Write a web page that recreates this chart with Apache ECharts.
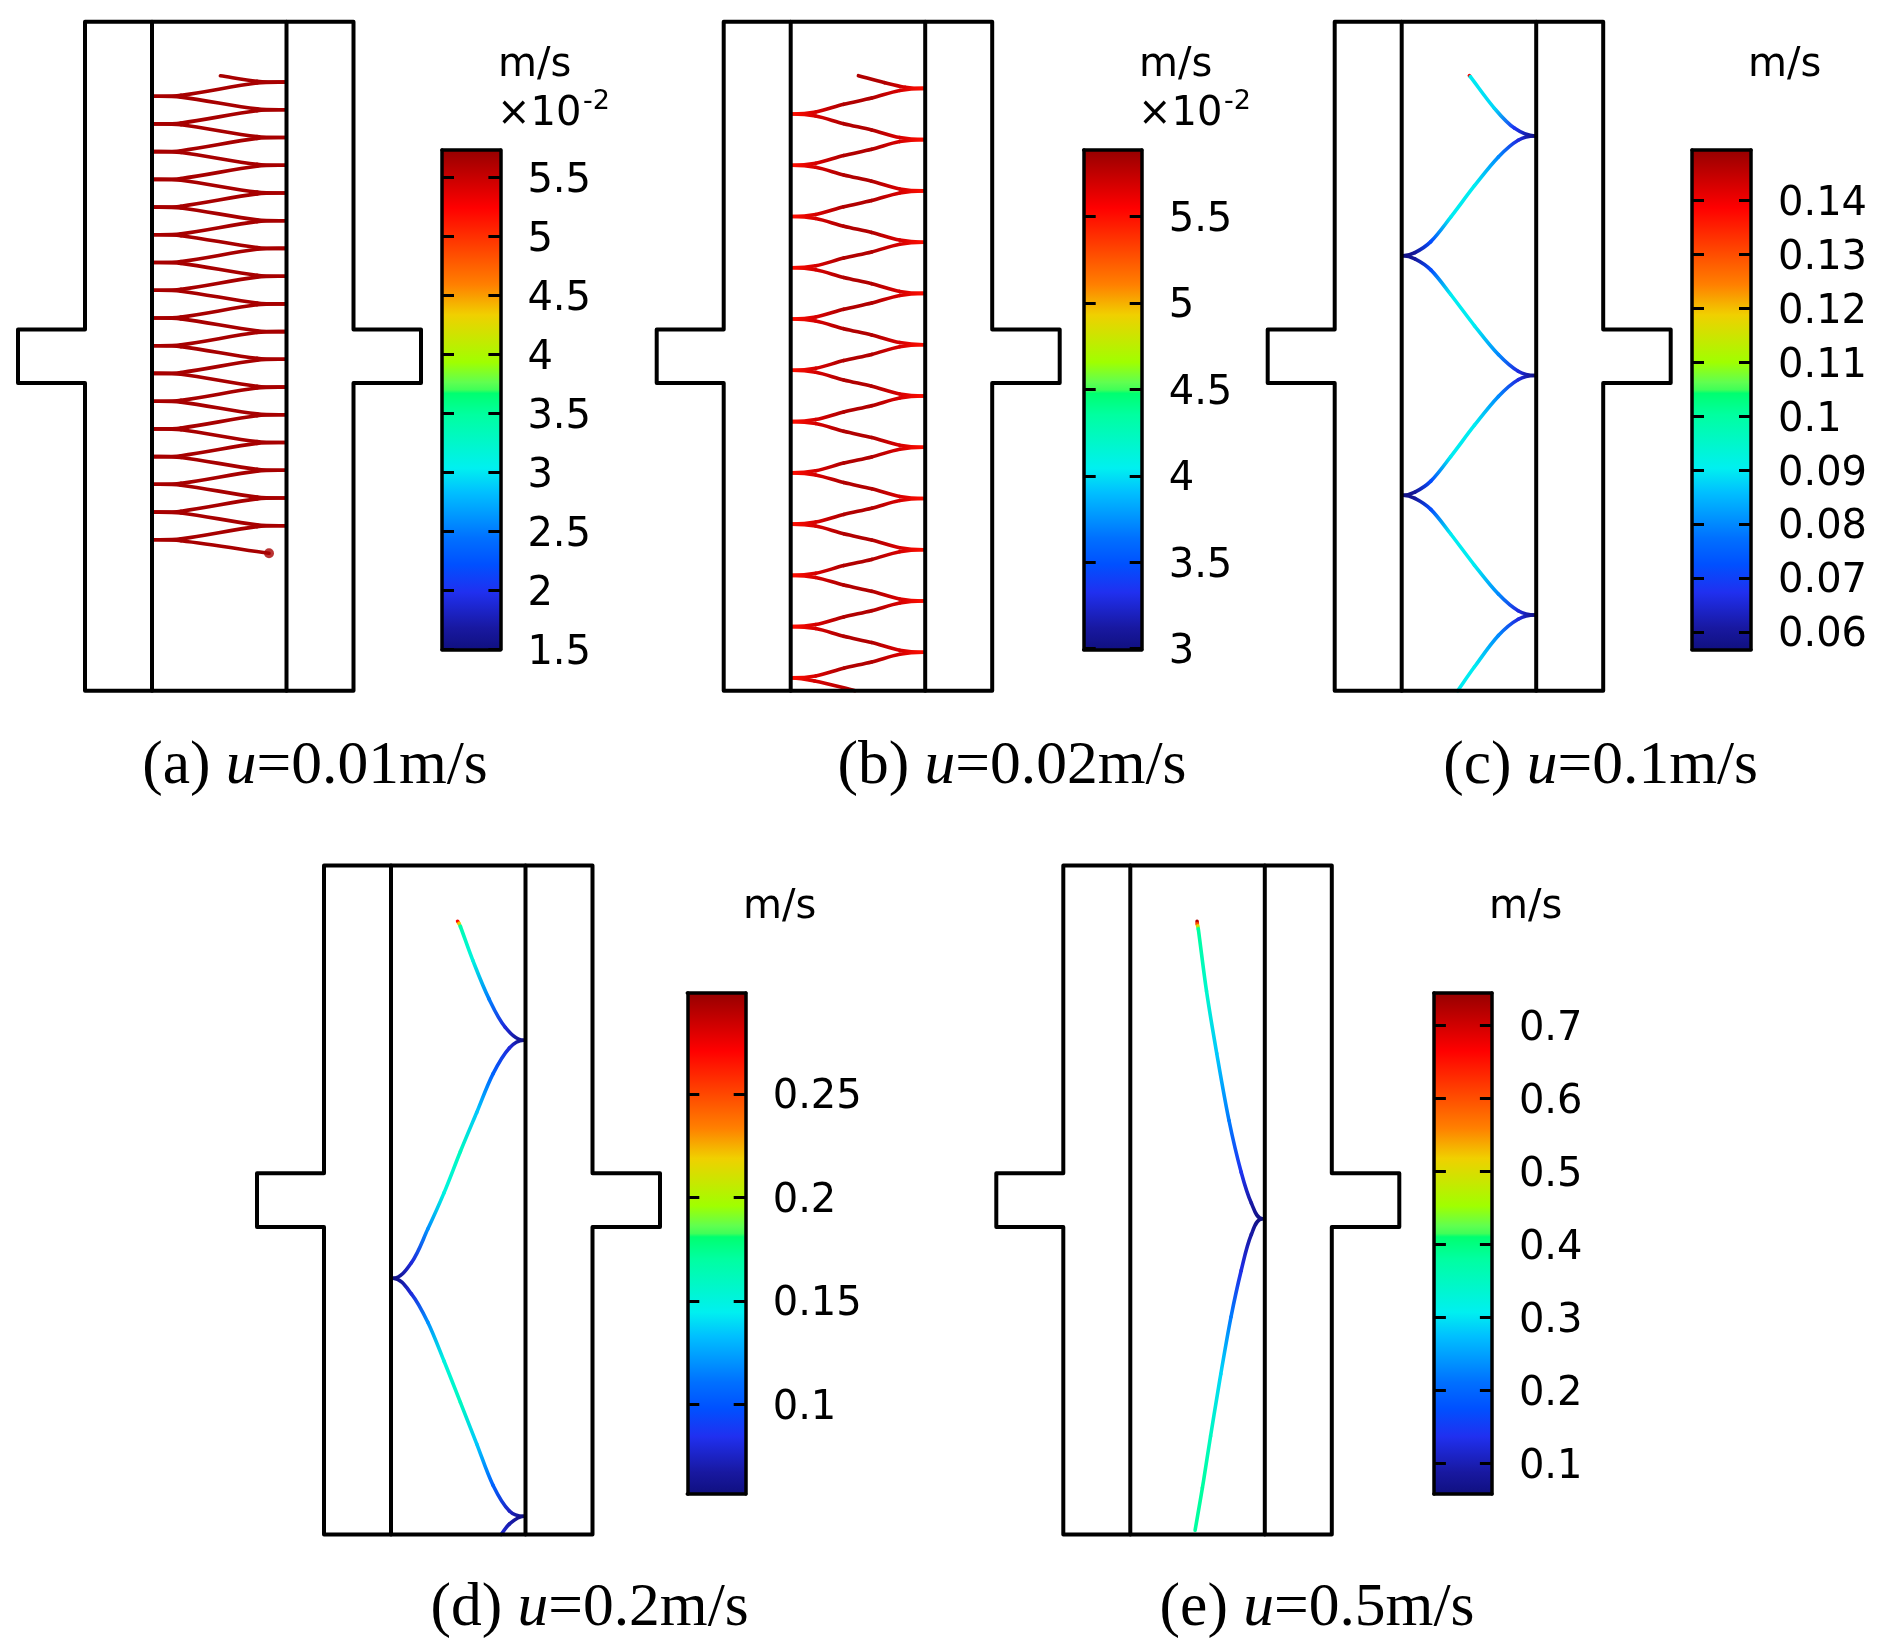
<!DOCTYPE html>
<html><head><meta charset="utf-8">
<style>html,body{margin:0;padding:0;background:#fff}#c{width:1883px;height:1651px}</style>
<script src="https://cdn.jsdelivr.net/npm/echarts@6/dist/echarts.min.js"></script>
</head><body><div id="c"></div>
<script>
// Device outline (reference px units, origin at outer frame top-left)
const outline=[[0,0],[268.5,0],[268.5,307.7],[336,307.7],[336,361.4],[268.5,361.4],[268.5,669],[0,669],[0,361.4],[-67,361.4],[-67,307.7],[0,307.7],[0,0]];
const wallLeft=[[67,0],[67,669]];
const wallRight=[[201.5,0],[201.5,669]];

// Speed colour scale: fraction, colour
const scaleStops=[[0,'#101080'],[0.043,'#1818a0'],[0.115,'#2030f0'],[0.17,'#0050ff'],[0.223,'#0070ff'],[0.315,'#00c0ff'],[0.363,'#00f0f0'],[0.47,'#00ffa0'],[0.513,'#00ff70'],[0.52,'#40ff58'],[0.535,'#60ff50'],[0.575,'#a0ff00'],[0.67,'#f0d000'],[0.73,'#ff8000'],[0.884,'#ff0000'],[1,'#960000']];

// (a) u=0.01
const trackA=[[135.4,54],[172,59.5],[200.5,60.4],
[172,61.3],[96,73.6],[68.5,74.5],[96,75.4],[172,87.2],[200.5,88.1],
[172,89],[96,101.3],[68.5,102.2],[96,103.1],[172,114.9],[200.5,115.8],
[172,116.7],[96,129],[68.5,129.9],[96,130.8],[172,142.7],[200.5,143.6],
[172,144.5],[96,156.8],[68.5,157.7],[96,158.6],[172,170.4],[200.5,171.3],
[172,172.2],[96,184.5],[68.5,185.4],[96,186.3],[172,198.1],[200.5,199],
[172,199.9],[96,212.2],[68.5,213.1],[96,214],[172,225.8],[200.5,226.7],
[172,227.6],[96,239.9],[68.5,240.8],[96,241.7],[172,253.6],[200.5,254.5],
[172,255.4],[96,267.7],[68.5,268.6],[96,269.5],[172,281.3],[200.5,282.2],
[172,283.1],[96,295.4],[68.5,296.3],[96,297.2],[172,309],[200.5,309.9],
[172,310.8],[96,323.1],[68.5,324],[96,324.9],[172,336.7],[200.5,337.6],
[172,338.5],[96,350.8],[68.5,351.7],[96,352.6],[172,364.5],[200.5,365.4],
[172,366.3],[96,378.6],[68.5,379.5],[96,380.4],[172,392.2],[200.5,393.1],
[172,394],[96,406.3],[68.5,407.2],[96,408.1],[172,419.9],[200.5,420.8],
[172,421.7],[96,434],[68.5,434.9],[96,435.8],[172,447.6],[200.5,448.5],
[172,449.4],[96,461.7],[68.5,462.6],[96,463.5],[172,475.4],[200.5,476.3],
[172,477.2],[96,489.5],[68.5,490.4],[96,491.3],[172,503.1],[200.5,504],
[172,504.9],[96,517.2],[68.5,518.1],[96,519],[184,531.6]];
const speedA=5.65;
const endDotA=[[184,531.6]];

// (b) u=0.02: x, y, speed
const trackB=[[134.7,54,5.8],[161,61,5.8],[181.5,65.5,5.68],[200,66.7,5.5],
[176,68.7,5.68],[148,76.4,5.8],[120,82.6,5.8],[92,90.3,5.68],[68,92.3,5.5],
[92,94.3,5.68],[120,102,5.8],[148,108.2,5.8],[176,115.9,5.68],[200,117.9,5.5],
[176,119.9,5.68],[148,127.6,5.8],[120,133.8,5.8],[92,141.5,5.68],[68,143.6,5.5],
[92,145.6,5.68],[120,153.3,5.8],[148,159.5,5.8],[176,167.2,5.68],[200,169.2,5.5],
[176,171.2,5.68],[148,178.9,5.8],[120,185.1,5.8],[92,192.8,5.68],[68,194.8,5.5],
[92,196.8,5.68],[120,204.5,5.8],[148,210.7,5.8],[176,218.4,5.68],[200,220.5,5.5],
[176,222.5,5.68],[148,230.2,5.8],[120,236.4,5.8],[92,244.1,5.68],[68,246.1,5.5],
[92,248.1,5.68],[120,255.8,5.8],[148,262,5.8],[176,269.7,5.68],[200,271.7,5.5],
[176,273.7,5.68],[148,281.4,5.8],[120,287.6,5.8],[92,295.3,5.68],[68,297.3,5.5],
[92,299.3,5.68],[120,307,5.8],[148,313.2,5.8],[176,320.9,5.68],[200,323,5.5],
[176,325,5.68],[148,332.7,5.8],[120,338.9,5.8],[92,346.6,5.68],[68,348.6,5.5],
[92,350.6,5.68],[120,358.3,5.8],[148,364.5,5.8],[176,372.2,5.68],[200,374.3,5.5],
[176,376.3,5.68],[148,384,5.8],[120,390.2,5.8],[92,397.9,5.68],[68,399.9,5.5],
[92,401.9,5.68],[120,409.6,5.8],[148,415.8,5.8],[176,423.5,5.68],[200,425.5,5.5],
[176,427.5,5.68],[148,435.2,5.8],[120,441.4,5.8],[92,449.1,5.68],[68,451.2,5.5],
[92,453.2,5.68],[120,460.9,5.8],[148,467.1,5.8],[176,474.8,5.68],[200,476.8,5.5],
[176,478.8,5.68],[148,486.5,5.8],[120,492.7,5.8],[92,500.4,5.68],[68,502.4,5.5],
[92,504.4,5.68],[120,512.1,5.8],[148,518.3,5.8],[176,526,5.68],[200,528,5.5],
[176,530,5.68],[148,537.7,5.8],[120,543.9,5.8],[92,551.6,5.68],[68,553.7,5.5],
[92,555.7,5.68],[120,563.4,5.8],[148,569.6,5.8],[176,577.3,5.68],[200,579.3,5.5],
[176,581.3,5.68],[148,589,5.8],[120,595.2,5.8],[92,602.9,5.68],[68,604.9,5.5],
[92,606.9,5.68],[120,614.6,5.8],[148,620.8,5.8],[176,628.5,5.68],[200,630.6,5.5],
[176,632.6,5.68],[148,640.3,5.8],[120,646.5,5.8],[92,654.2,5.68],[68,656.2,5.5],
[91,659.3,5.68],[131.4,669,5.8]];

// (c) u=0.1
const trackC=[[134.7,54,0.14],[135.6,55,0.09],[159.7,86.6,0.088],[179.6,106.4,0.068],[200.2,114.3,0.057],
[183.5,118.5,0.066],[163.7,135.2,0.08],[139.8,164,0.09],[116,195.4,0.09],[96.1,219.9,0.072],[80.2,230.9,0.06],[68.3,234,0.057],
[80.2,237.2,0.06],[96.1,248.2,0.072],[116,272.8,0.09],[139.8,304.1,0.09],[163.7,332.9,0.08],[183.5,349.6,0.066],[200.2,353.8,0.057],
[183.5,358,0.066],[163.7,374.7,0.08],[139.8,403.5,0.09],[116,434.9,0.09],[96.1,459.4,0.072],[80.2,470.4,0.06],[68.3,473.5,0.057],
[80.2,476.7,0.06],[96.1,487.7,0.072],[116,512.3,0.09],[139.8,543.6,0.09],[163.7,572.4,0.08],[183.5,589.1,0.066],[200.2,593.3,0.057],
[183.5,597.5,0.066],[163.7,613.8,0.08],[139.8,645.1,0.09],[123,669,0.09]];

// (d) u=0.2
const trackD=[[133.6,55.8,0.27],[135,58,0.22],[136.4,61,0.165],[148.7,94.6,0.15],[165,133.4,0.115],[181.3,161.8,0.08],[199.7,174.8,0.057],
[185.4,182.5,0.08],[169,208.4,0.105],[152.7,247,0.135],[136.4,286,0.16],[120,327.4,0.15],[103.8,363.6,0.12],[87.4,397.2,0.08],[69,412.7,0.057],
[87.4,428.3,0.08],[103.8,456.7,0.12],[120,495.5,0.15],[136.4,536.9,0.16],[152.7,578.3,0.135],[169,619.7,0.105],[185.4,645.5,0.075],[199.7,650.7,0.057],
[185.4,658.5,0.07],[177.2,669,0.08]];

// (e) u=0.5
const trackE=[[133.8,55.8,0.72],[134,58.5,0.6],[134.4,60.5,0.5],[135,63.5,0.38],[143.2,125.6,0.34],[153.4,187.7,0.28],[165.7,255,0.22],[177.9,306.7,0.14],[188.1,337.7,0.09],[199.2,353.2,0.06],
[188.1,368.8,0.09],[177.9,405,0.13],[167.7,451.5,0.22],[157.5,508.5,0.29],[147.3,570.5,0.35],[139.1,622.3,0.38],[131.8,664.7,0.38]];

// Colour bar ranges and tick labels
const rangeA=[1.5,5.73], ticksA=[1.5,2,2.5,3,3.5,4,4.5,5,5.5];
const rangeB=[2.995,5.885], ticksB=[3,3.5,4,4.5,5,5.5];
const rangeC=[0.0567,0.1494], ticksC=[0.06,0.07,0.08,0.09,0.1,0.11,0.12,0.13,0.14];
const rangeD=[0.0567,0.2988], ticksD=[0.1,0.15,0.2,0.25];
const rangeE=[0.058,0.744], ticksE=[0.1,0.2,0.3,0.4,0.5,0.6,0.7];

const captionA='(a) ', captionB='(b) ', captionC='(c) ', captionD='(d) ', captionE='(e) ';
const speedsU=['0.01','0.02','0.1','0.2','0.5'];

// Layout
const panels=[
 {frame:[85,21.7], bar:[442,150,58.4,499.6], range:rangeA, ticks:ticksA, track:trackA.map(p=>[p[0],p[1],speedA]), cap:captionA, capX:315, capY:767, unit:[498,66], exp:[497,115]},
 {frame:[723.7,21.7], bar:[1083.7,150,58,499.6], range:rangeB, ticks:ticksB, track:trackB, cap:captionB, capX:1012, capY:767, unit:[1139,66], exp:[1138,115]},
 {frame:[1334.7,21.7], bar:[1692,150,59,499.6], range:rangeC, ticks:ticksC, track:trackC, cap:captionC, capX:1600.6, capY:767, unit:[1748,66]},
 {frame:[324,865.5], bar:[687.3,993,58.4,501], range:rangeD, ticks:ticksD, track:trackD, cap:captionD, capX:589.6, capY:1609, unit:[743,908]},
 {frame:[1063.3,865.5], bar:[1433.9,993,58,501], range:rangeE, ticks:ticksE, track:trackE, cap:captionE, capX:1317, capY:1609, unit:[1489,908]}
];

function hex(c){return [parseInt(c.slice(1,3),16),parseInt(c.slice(3,5),16),parseInt(c.slice(5,7),16)];}
function colorAt(f){
  f=Math.max(0,Math.min(1,f));
  for(let i=1;i<scaleStops.length;i++){
    if(f<=scaleStops[i][0]){
      const a=scaleStops[i-1],b=scaleStops[i],t=(f-a[0])/(b[0]-a[0]||1),ca=hex(a[1]),cb=hex(b[1]);
      return 'rgb('+ca.map((v,k)=>Math.round(v+(cb[k]-v)*t)).join(',')+')';
    }
  }
  return scaleStops[scaleStops.length-1][1];
}
// Each stretch between read points becomes one curved segment; at wall contacts the path leaves along the x direction.
function segmentsOf(track){
  const unit=(dx,dy)=>{const l=Math.hypot(dx,dy)||1;return [dx/l,dy/l];};
  const tangent=(k)=>{
    const p=track[k],a=track[k-1],b=track[k+1];
    if(!a)return {in:unit(b[0]-p[0],b[1]-p[1]),out:unit(b[0]-p[0],b[1]-p[1])};
    if(!b)return {in:unit(p[0]-a[0],p[1]-a[1]),out:unit(p[0]-a[0],p[1]-a[1])};
    if((p[0]-a[0])*(b[0]-p[0])<0){return {in:[Math.sign(p[0]-a[0]),0],out:[Math.sign(b[0]-p[0]),0]};}
    const t=unit(b[0]-a[0],b[1]-a[1]);return {in:t,out:t};
  };
  const segs=[];
  for(let k=1;k<track.length;k++){
    const a=track[k-1],b=track[k],len=Math.hypot(b[0]-a[0],b[1]-a[1])/3,ta=tangent(k-1).out,tb=tangent(k).in;
    segs.push([a[0],a[1],a[2],b[0],b[1],b[2],a[0]+ta[0]*len,a[1]+ta[1]*len,b[0]-tb[0]*len,b[1]-tb[1]*len]);
  }
  return segs;
}
const black='#000';
const grids=[],xAxes=[],yAxes=[],series=[],texts=[];
const geomLine=(data,xi,yi)=>({type:'line',data,xAxisIndex:xi,yAxisIndex:yi,symbol:'none',silent:true,clip:false,z:4,animation:false,lineStyle:{color:black,width:4,cap:'round',join:'round'}});

panels.forEach((p,i)=>{
  const g=grids.length;
  grids.push({left:p.frame[0]-67,top:p.frame[1],width:403,height:669});
  xAxes.push({gridIndex:g,type:'value',min:-67,max:336,show:false});
  yAxes.push({gridIndex:g,type:'value',min:0,max:669,inverse:true,show:false});
  const xi=xAxes.length-1, yi=yAxes.length-1;
  series.push(geomLine(outline,xi,yi),geomLine(wallLeft,xi,yi),geomLine(wallRight,xi,yi));
  const [mn,mx]=p.range;
  series.push({type:'custom',xAxisIndex:xi,yAxisIndex:yi,data:segmentsOf(p.track),silent:true,clip:false,z:3,animation:false,
    encode:{x:[0,3],y:[1,4]},
    renderItem:(params,api)=>{
      const a=api.coord([api.value(0),api.value(1)]),b=api.coord([api.value(3),api.value(4)]);
      const c1=api.coord([api.value(6),api.value(7)]),c2=api.coord([api.value(8),api.value(9)]);
      const ca=colorAt((api.value(2)-mn)/(mx-mn)),cb=colorAt((api.value(5)-mn)/(mx-mn));
      return {type:'bezierCurve',shape:{x1:a[0],y1:a[1],x2:b[0],y2:b[1],cpx1:c1[0],cpy1:c1[1],cpx2:c2[0],cpy2:c2[1]},
        style:{stroke:new echarts.graphic.LinearGradient(a[0],a[1],b[0],b[1],[{offset:0,color:ca},{offset:1,color:cb}],true),lineWidth:3.6,lineCap:'round',fill:'none'}};
    }});
  if(i===0){
    series.push({type:'scatter',xAxisIndex:xi,yAxisIndex:yi,data:endDotA,symbol:'circle',symbolSize:10,silent:true,z:3,animation:false,
      itemStyle:{color:colorAt((speedA-mn)/(mx-mn))}});
  }
  const h=grids.length;
  grids.push({left:p.bar[0],top:p.bar[1],width:p.bar[2],height:p.bar[3]});
  const line={show:true,onZero:false,lineStyle:{color:black,width:3.5,cap:'round'}};
  xAxes.push({gridIndex:h,type:'category',data:['speed'],position:'bottom',z:6,axisLine:line,axisTick:{show:false},axisLabel:{show:false},splitLine:{show:false}});
  const bxi=xAxes.length-1;
  xAxes.push({gridIndex:h,type:'category',data:['speed'],position:'top',z:6,axisLine:line,axisTick:{show:false},axisLabel:{show:false},splitLine:{show:false}});
  const tick={show:true,inside:true,length:12,customValues:p.ticks,lineStyle:{color:black,width:3}};
  yAxes.push({gridIndex:h,type:'value',min:mn,max:mx,position:'left',z:6,axisLine:line,axisTick:tick,axisLabel:{show:false},splitLine:{show:false}});
  const byi=yAxes.length-1;
  yAxes.push({gridIndex:h,type:'value',min:mn,max:mx,position:'right',z:6,axisLine:line,axisTick:tick,splitLine:{show:false},
    axisLabel:{show:true,customValues:p.ticks,margin:27,color:black,hideOverlap:false,showMinLabel:true,showMaxLabel:true,
      formatter:v=>'{v|'+v+'}',
      rich:{v:{fontSize:40,fontFamily:'DejaVu Sans',color:black,padding:[8,0,0,0]}}}});
  series.push({type:'bar',xAxisIndex:bxi,yAxisIndex:byi,data:[mx],barWidth:'100%',silent:true,animation:false,z:2,
    itemStyle:{color:new echarts.graphic.LinearGradient(0,0,0,1,scaleStops.slice().reverse().map(s=>({offset:1-s[0],color:s[1]})))}});
  texts.push({type:'text',x:p.unit[0],y:p.unit[1],silent:true,style:{text:'m/s',font:'40px "DejaVu Sans"',fill:black,textAlign:'left',textVerticalAlign:'middle'}});
  if(p.exp){
    texts.push({type:'text',x:p.exp[0],y:p.exp[1],silent:true,style:{text:'×10',font:'40px "DejaVu Sans"',fill:black,textAlign:'left',textVerticalAlign:'middle'}});
    texts.push({type:'text',x:p.exp[0]+86,y:p.exp[1]-13,silent:true,style:{text:'-2',font:'27px "DejaVu Sans"',fill:black,textAlign:'left',textVerticalAlign:'middle'}});
  }
  texts.push({type:'text',x:p.capX,y:p.capY,silent:true,style:{
    text:p.cap+'{i|u}='+speedsU[i]+'m/s',font:'61.5px "Liberation Serif"',fill:black,textAlign:'center',textVerticalAlign:'middle',
    rich:{i:{font:'italic 61.5px "Liberation Serif"',fill:black}}}});
});

const chart=echarts.init(document.getElementById('c'),null,{renderer:'canvas'});
chart.setOption({backgroundColor:'#fff',animation:false,grid:grids,xAxis:xAxes,yAxis:yAxes,series,graphic:{elements:texts},tooltip:{show:false},legend:{show:false}});
</script></body></html>
